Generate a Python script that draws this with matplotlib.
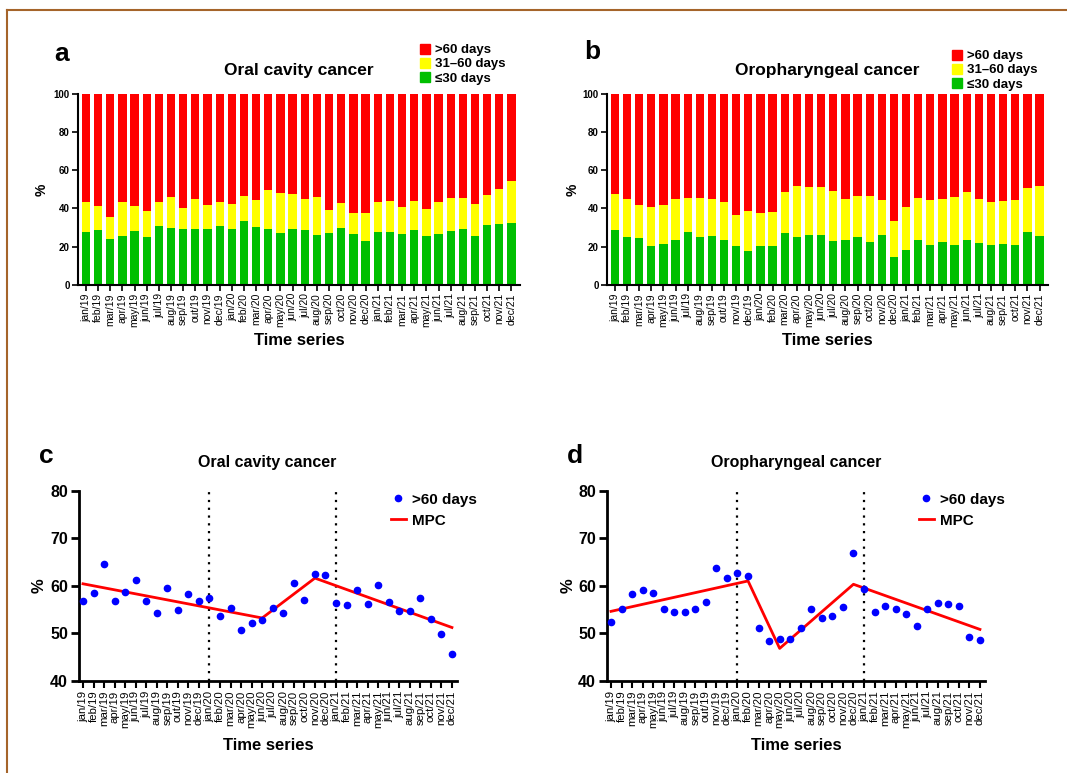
import matplotlib
matplotlib.use('Agg')
import matplotlib.pyplot as plt
import numpy as np
from matplotlib.lines import Line2D
from matplotlib.patches import Patch

plt.rcParams['font.family'] = ['Liberation Sans', 'DejaVu Sans']

months = ['jan/19', 'feb/19', 'mar/19', 'apr/19', 'may/19', 'jun/19', 'jul/19', 'aug/19',
          'sep/19', 'out/19', 'nov/19', 'dec/19',
          'jan/20', 'feb/20', 'mar/20', 'apr/20', 'may/20', 'jun/20', 'jul/20', 'aug/20',
          'sep/20', 'oct/20', 'nov/20', 'dec/20',
          'jan/21', 'feb/21', 'mar/21', 'apr/21', 'may/21', 'jun/21', 'jul/21', 'aug/21',
          'sep/21', 'oct/21', 'nov/21', 'dec/21']

# oral cavity cancer, % of cases by waiting time
oral_le30 = [27.5, 28.7, 24.2, 25.4, 28.4, 25.2, 30.8, 29.9, 29.2, 29.1, 29.4, 31.0,
             29.2, 33.5, 30.3, 29.2, 27.3, 29.2, 28.5, 25.9, 27.3, 29.6, 26.8, 22.9,
             27.5, 27.8, 26.6, 28.9, 25.7, 26.8, 28.2, 29.4, 25.7, 31.3, 31.9, 32.4]
oral_gt60 = [56.8, 58.5, 64.5, 56.8, 58.6, 61.3, 56.8, 54.2, 59.6, 54.9, 58.2, 56.8,
             57.5, 53.6, 55.4, 50.6, 52.1, 52.7, 55.3, 54.2, 60.6, 57.0, 62.5, 62.3,
             56.4, 56.0, 59.2, 56.1, 60.1, 56.6, 54.7, 54.7, 57.5, 52.9, 49.9, 45.6]

# oropharyngeal cancer
oro_le30 = [28.9, 24.9, 24.5, 20.3, 21.2, 23.3, 27.5, 24.9, 25.7, 23.3, 20.3, 17.7,
            20.5, 20.3, 27.0, 25.0, 26.3, 26.3, 22.7, 23.5, 24.9, 22.4, 26.1, 14.7,
            18.2, 23.3, 20.7, 22.4, 20.8, 23.6, 21.7, 21.0, 21.2, 21.0, 27.7, 25.6]
oro_gt60 = [52.3, 55.0, 58.3, 59.0, 58.4, 55.0, 54.4, 54.4, 55.1, 56.5, 63.7, 61.6,
            62.6, 62.0, 51.2, 48.4, 48.8, 48.8, 51.1, 55.2, 53.3, 53.7, 55.5, 66.8,
            59.4, 54.4, 55.8, 55.2, 54.0, 51.6, 55.2, 56.4, 56.1, 55.8, 49.1, 48.5]

# joinpoint (MPC) fitted values at the knots
oral_mpc_months = ['jan/19', 'jun/20', 'nov/20', 'dec/21']
oral_mpc_values = [60.4, 53.2, 61.6, 51.2]
oro_mpc_months = ['jan/19', 'feb/20', 'may/20', 'dec/20', 'dec/21']
oro_mpc_values = [54.6, 61.0, 46.8, 60.3, 50.8]

year_marks = ['jan/20', 'jan/21']

W, H = 1067, 773
fig = plt.figure(figsize=(W / 100, H / 100), dpi=100)


def px_axes(l, t, r, b):
    return fig.add_axes([l / W, 1 - b / H, (r - l) / W, (b - t) / H])


def bar_panel(ax, le30, gt60, ylab_x):
    mid = 100 - np.array(le30) - np.array(gt60)
    ax.bar(months, le30, width=0.68, color='#00bf00')
    ax.bar(months, mid, width=0.68, bottom=le30, color='#ffff00')
    ax.bar(months, gt60, width=0.68, bottom=np.array(le30) + mid, color='#ff0000')
    ax.set_ylim(0, 100)
    ax.set_xlim(-0.65, 35.7)
    ax.set_yticks([0, 20, 40, 60, 80, 100])
    for s in ['top', 'right']:
        ax.spines[s].set_visible(False)
    for s in ['left', 'bottom']:
        ax.spines[s].set_linewidth(1.5)
    ax.tick_params(axis='x', rotation=90, labelsize=7.5, length=4, width=1.2, pad=2)
    ax.tick_params(axis='y', labelsize=7, length=4, width=1.2, pad=2)
    for lab in ax.get_yticklabels():
        lab.set_fontweight('bold')
    ax.set_ylabel('%', fontsize=10, fontweight='bold')
    ax.yaxis.set_label_coords(ylab_x, 0.5)
    ax.set_xlabel('Time series', fontsize=12, fontweight='bold', labelpad=4)


def line_panel(ax, gt60, mpc_months, mpc_values, ylab_x):
    ax.plot(months, gt60, 'o', color='#0000ff', ms=4.5, ls='none', zorder=3)
    ax.plot(mpc_months, mpc_values, color='#ff0000', lw=2, zorder=2)
    for m in year_marks:
        ax.axvline(m, color='black', ls=(0, (1, 2.5)), lw=1.6, zorder=1)
    ax.set_ylim(40, 80)
    ax.set_xlim(-0.38, 35.48)
    ax.set_yticks([40, 50, 60, 70, 80])
    for s in ['top', 'right']:
        ax.spines[s].set_visible(False)
    for s in ['left', 'bottom']:
        ax.spines[s].set_linewidth(2)
    ax.tick_params(axis='x', rotation=90, labelsize=8.2, length=5, width=1.5, pad=2)
    ax.tick_params(axis='y', labelsize=11.5, length=6, width=2, pad=2)
    for lab in ax.get_yticklabels():
        lab.set_fontweight('bold')
    ax.set_ylabel('%', fontsize=12, fontweight='bold')
    ax.yaxis.set_label_coords(ylab_x, 0.5)
    ax.set_xlabel('Time series', fontsize=12, fontweight='bold', labelpad=7)


ax_a = px_axes(78, 94, 520, 284.7)
bar_panel(ax_a, oral_le30, oral_gt60, -0.066)
ax_b = px_axes(607, 94, 1048, 284.7)
bar_panel(ax_b, oro_le30, oro_gt60, -0.061)
ax_c = px_axes(79, 490.7, 457, 680.7)
line_panel(ax_c, oral_gt60, oral_mpc_months, oral_mpc_values, -0.086)
ax_d = px_axes(607, 490.7, 985, 680.7)
line_panel(ax_d, oro_gt60, oro_mpc_months, oro_mpc_values, -0.083)

# titles and panel letters
fig.text(299 / W, 1 - 71 / H, 'Oral cavity cancer', ha='center', va='center', fontsize=12.5, fontweight='bold')
fig.text(827 / W, 1 - 71 / H, 'Oropharyngeal cancer', ha='center', va='center', fontsize=12.5, fontweight='bold')
fig.text(267 / W, 1 - 462 / H, 'Oral cavity cancer', ha='center', va='center', fontsize=11.5, fontweight='bold')
fig.text(796 / W, 1 - 462 / H, 'Oropharyngeal cancer', ha='center', va='center', fontsize=11.5, fontweight='bold')
for letter, x, y in [('a', 62, 54), ('b', 592, 52), ('c', 46, 456), ('d', 575, 456)]:
    fig.text(x / W, 1 - y / H, letter, ha='center', va='center', fontsize=19, fontweight='bold')

bar_handles = [Patch(color='#ff0000'), Patch(color='#ffff00'), Patch(color='#00bf00')]
bar_labels = ['>60 days', '31\u201360 days', '\u226430 days']
for x, y in [(413, 37), (945, 43)]:
    fig.legend(bar_handles, bar_labels, loc='upper left', bbox_to_anchor=(x / W, 1 - y / H),
               frameon=False, handlelength=0.8, handleheight=0.8, handletextpad=0.4,
               labelspacing=0.12, borderpad=0, prop={'size': 9.5, 'weight': 'bold'})

line_handles = [Line2D([], [], marker='o', ls='none', color='#0000ff', ms=4.5),
                Line2D([], [], color='#ff0000', lw=2)]
for x, y in [(383, 485), (911, 485)]:
    fig.legend(line_handles, ['>60 days', 'MPC'], loc='upper left', bbox_to_anchor=(x / W, 1 - y / H),
               frameon=False, handlelength=1.0, handletextpad=0.4, labelspacing=0.45,
               borderpad=0, prop={'size': 11, 'weight': 'bold'})

# frame (only top and left edges are in view)
fig.add_artist(Line2D([7 / W, 1], [1 - 10 / H, 1 - 10 / H], color='#a5642a', lw=1.5))
fig.add_artist(Line2D([7 / W, 7 / W], [0, 1 - 10 / H], color='#a5642a', lw=1.5))

plt.savefig('out.png', dpi=100)
plt.close(fig)
